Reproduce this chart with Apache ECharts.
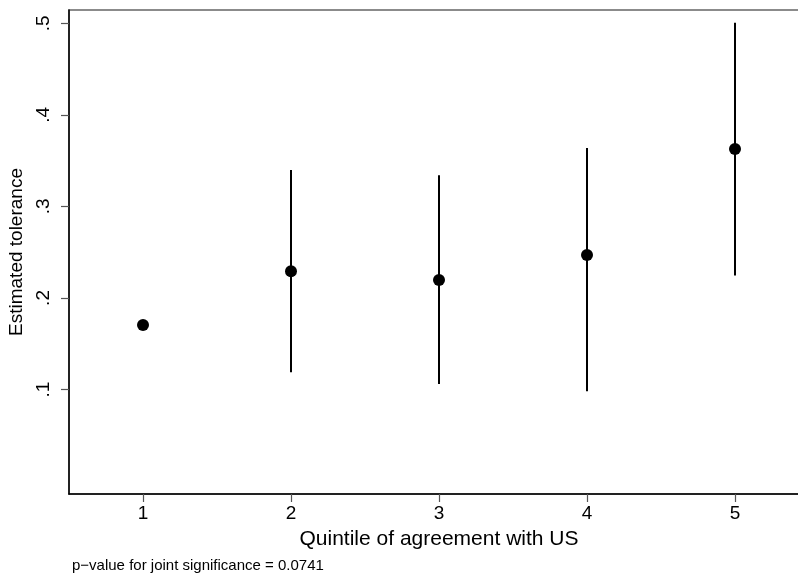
<!DOCTYPE html>
<html>
<head>
<meta charset="utf-8">
<script src="https://cdn.jsdelivr.net/npm/echarts@6/dist/echarts.min.js"></script>
<style>html,body{margin:0;padding:0;background:#fff}#c{width:798px;height:578px}</style>
</head>
<body>
<div id="c"></div>
<script>
const quintiles = [1, 2, 3, 4, 5];
const estimates = [0.1706, 0.2293, 0.2195, 0.2468, 0.3627];
const ciLower = [null, 0.1189, 0.106, 0.098, 0.2246];
const ciUpper = [null, 0.3397, 0.334, 0.3638, 0.5005];
const yTicks = [0.1, 0.2, 0.3, 0.4, 0.5];
const xTicks = [1, 2, 3, 4, 5];

const chart = echarts.init(document.getElementById('c'), null, {renderer: 'canvas'});
const font = 'Liberation Sans, Arial, Helvetica, sans-serif';
const ciData = quintiles.map((q, i) => [q, ciLower[i], ciUpper[i]]).filter(d => d[1] != null);

chart.setOption({
  animation: false,
  backgroundColor: '#fff',
  grid: {left: 69, right: -11, top: 10, bottom: 84, containLabel: false, outerBoundsMode: 'none',
    show: true, borderColor: '#666', borderWidth: 1.5},
  xAxis: {
    type: 'value', min: 0.5, max: 5.5,
    name: 'Quintile of agreement with US', nameLocation: 'middle', nameGap: 35,
    nameTextStyle: {fontFamily: font, fontSize: 21, color: '#000'},
    axisLine: {show: true, onZero: false, lineStyle: {color: '#000', width: 1.5}},
    axisTick: {show: true, length: 8, customValues: xTicks, lineStyle: {color: '#555', width: 1.2}},
    axisLabel: {customValues: xTicks, fontFamily: font, fontSize: 19, color: '#000', margin: 10},
    splitLine: {show: false}
  },
  yAxis: {
    type: 'value', min: -0.0141, max: 0.5145,
    name: 'Estimated tolerance', nameLocation: 'middle', nameGap: 41, nameRotate: 90,
    nameTextStyle: {fontFamily: font, fontSize: 19, color: '#000'},
    axisLine: {show: true, onZero: false, lineStyle: {color: '#000', width: 1.5}},
    axisTick: {show: true, length: 8, customValues: yTicks, lineStyle: {color: '#555', width: 1.2}},
    axisLabel: {customValues: yTicks, rotate: 90, fontFamily: font, fontSize: 19, color: '#000', margin: 16,
      formatter: v => v.toFixed(1).replace(/^0/, '')},
    splitLine: {show: false}
  },
  graphic: [{
    type: 'text', left: 72, top: 558,
    style: {text: 'p\u2212value for joint significance = 0.0741', font: '15px ' + font, fill: '#000'}
  }],
  series: [
    {
      type: 'custom',
      data: ciData,
      renderItem: function (params, api) {
        const lo = api.coord([api.value(0), api.value(1)]);
        const hi = api.coord([api.value(0), api.value(2)]);
        return {type: 'line', shape: {x1: lo[0], y1: lo[1], x2: hi[0], y2: hi[1]},
          style: {stroke: '#000', lineWidth: 2}};
      },
      encode: {x: 0, y: [1, 2]},
      z: 2
    },
    {
      type: 'scatter',
      data: quintiles.map((q, i) => [q, estimates[i]]),
      symbol: 'circle', symbolSize: 12,
      itemStyle: {color: '#000', opacity: 1},
      z: 3
    }
  ]
});
</script>
</body>
</html>
